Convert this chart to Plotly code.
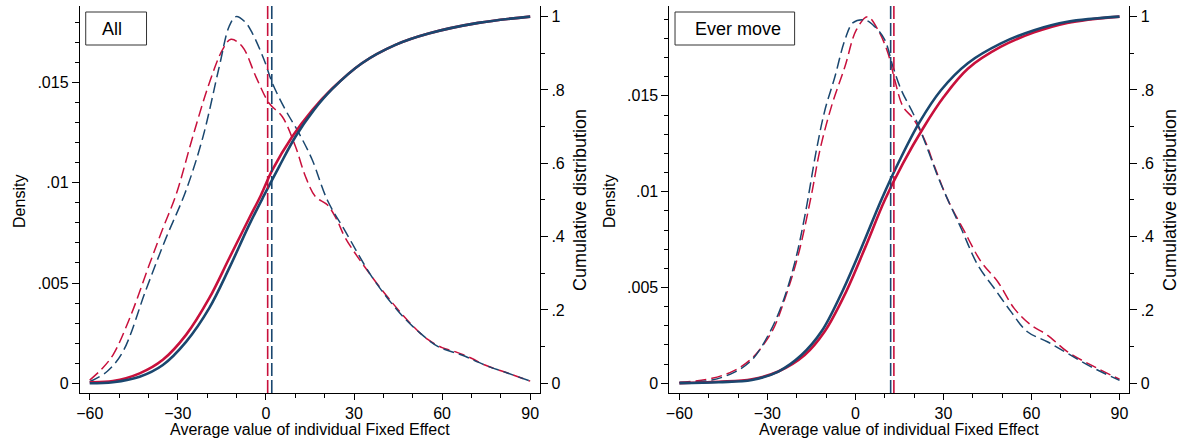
import plotly.graph_objects as go

# ---------------- data ----------------
# Panel "All"
all_red_dens_x = [-60, -56, -52.1, -46.4, -39.6, -35.1, -30.6, -24.9, -19.3, -14.8, -11.9, -8, -3.4, 1.1, 5.6,
                  10.1, 13.5, 16.9, 20.9, 24.0, 27.1, 36.1, 42, 49.7, 55, 60, 64.4, 70, 74.6, 82.5, 90]
all_red_dens_y = [0.00016, 0.0007, 0.00141, 0.00324, 0.00596, 0.00772, 0.0094, 0.0123, 0.01496, 0.01662,
                  0.01715, 0.01678, 0.01528, 0.01396, 0.01329, 0.01179, 0.0103, 0.0093, 0.0089, 0.0082,
                  0.00723, 0.00531, 0.0042, 0.00291, 0.0022, 0.00178, 0.00158, 0.00125, 0.00091, 0.0005, 0.00011]
all_blue_dens_x = [-60, -54, -48.7, -40.8, -34, -27.5, -21.5, -15.9, -12.5, -10.2, -7, -4.6, -0.6, 2.2, 6.7,
                   11.3, 15.8, 20.9, 27.1, 36.1, 45.2, 52, 58.8, 66.7, 74.6, 82.5, 90]
all_blue_dens_y = [0.00008, 0.0006, 0.00158, 0.00468, 0.00725, 0.0095, 0.01225, 0.01578, 0.0178, 0.01828,
                   0.0180, 0.01745, 0.01612, 0.01496, 0.01362, 0.01246, 0.01113, 0.00914, 0.00756, 0.00531,
                   0.00357, 0.00257, 0.00182, 0.00141, 0.00091, 0.0005, 0.00011]
all_red_cdf_x = [-60, -52.1, -43, -35.1, -27.2, -19.3, -12.5, -5.7, -1.7, 2.2, 9.0, 15.8, 22.6, 32.7, 44.1,
                 55.4, 72.3, 90]
all_red_cdf_y = [0.003, 0.006, 0.027, 0.064, 0.132, 0.232, 0.341, 0.45, 0.513, 0.582, 0.673, 0.745, 0.804,
                 0.873, 0.923, 0.954, 0.983, 1.0]
all_blue_cdf_x = [-60, -52.1, -43, -35.1, -27.2, -19.3, -12.5, -5.7, -0.6, 4.5, 10.1, 16.3, 22.6, 32.7, 44.1,
                  55.4, 72.3, 90]
all_blue_cdf_y = [0.0, 0.003, 0.018, 0.05, 0.113, 0.205, 0.314, 0.432, 0.513, 0.591, 0.673, 0.745, 0.803,
                  0.873, 0.923, 0.954, 0.983, 1.0]
all_means = {"red": 0.6, "blue": 2.0}

# Panel "Ever move"
mov_red_dens_x = [-60, -48.9, -41, -35, -28.5, -24, -19.5, -15, -12.1, -8.2, -3.6, 0.3, 4.1, 7.7, 11.1, 13.4,
                  16.2, 19.6, 23.6, 27, 31.5, 37.2, 42.8, 48.5, 54.1, 59.8, 65.4, 72.2, 80.2, 90]
mov_red_dens_y = [0.00005, 0.00026, 0.00069, 0.00135, 0.00269, 0.00444, 0.0067, 0.00983, 0.01218, 0.01444,
                  0.01652, 0.01844, 0.01913, 0.01844, 0.01722, 0.01583, 0.01444, 0.01383, 0.0127, 0.0113,
                  0.00957, 0.00791, 0.00635, 0.0053, 0.00391, 0.00304, 0.00252, 0.00165, 0.00096, 0.00021]
mov_blue_dens_x = [-60, -48.9, -41, -35.3, -29.7, -25.1, -20.6, -17.2, -13.3, -10.4, -7, -3.6, -0.8, 3.2, 6.6,
                   10, 12.8, 15.6, 20.2, 24.7, 28.1, 31.5, 36, 41.7, 47.3, 53, 58.6, 65.4, 72.2, 80.2, 90]
mov_blue_dens_y = [0.00005, 0.00017, 0.0006, 0.00122, 0.00252, 0.00409, 0.00635, 0.00878, 0.01218, 0.01426,
                   0.016, 0.01792, 0.01882, 0.01896, 0.01861, 0.01792, 0.01652, 0.01531, 0.01391, 0.01218,
                   0.01078, 0.00957, 0.00809, 0.00617, 0.00496, 0.00374, 0.00269, 0.00217, 0.00157, 0.00087,
                   0.00015]
mov_red_cdf_x = [-60, -46.6, -35.3, -26.3, -17.3, -10.5, -3.7, 3.3, 10.0, 16.2, 23.0, 30.0, 38.3, 49.6, 60.9,
                 72.2, 90]
mov_red_cdf_y = [0.0, 0.004, 0.011, 0.032, 0.077, 0.141, 0.241, 0.37, 0.5, 0.6, 0.695, 0.78, 0.858, 0.918,
                 0.957, 0.983, 1.0]
mov_blue_cdf_x = [-60, -46.6, -35.3, -26.3, -18.4, -11.6, -4.8, 2.0, 8.8, 15.1, 21.9, 29.2, 38.3, 49.6, 60.9,
                  72.2, 90]
mov_blue_cdf_y = [0.0, 0.003, 0.009, 0.032, 0.077, 0.141, 0.245, 0.369, 0.5, 0.609, 0.713, 0.80, 0.873, 0.927,
                  0.963, 0.986, 1.0]
mov_means = {"red": 13.1, "blue": 12.0}

panel_labels = ["All", "Ever move"]
x_ticks = [-60, -30, 0, 30, 60, 90]
x_minor = [-50, -40, -20, -10, 10, 20, 40, 50, 70, 80]
dens_ticks = [0, 0.005, 0.01, 0.015]
dens_ticktext = ["0", ".005", ".01", ".015"]
cdf_ticks = [0, 0.2, 0.4, 0.6, 0.8, 1.0]
cdf_ticktext = ["0", ".2", ".4", ".6", ".8", "1"]
cdf_minor = [0.1, 0.3, 0.5, 0.7, 0.9]
dens_minor_all = [0.001, 0.002, 0.003, 0.004, 0.006, 0.007, 0.008, 0.009, 0.011, 0.012, 0.013, 0.014,
                  0.016, 0.017, 0.018]
dens_minor_mov = dens_minor_all + [0.019]

# ---------------- styling ----------------
W, H = 1182, 440
RED = "#C8103C"
BLUE = "#1A476F"
FONT = "Liberation Sans, Arial, sans-serif"

def px_x(p):
    return p / W

def px_y(p):
    return 1 - p / H

top, bottom = 6, 393
panels = [
    dict(left=76, right=538, dens_range=[-0.000483, 0.01881], minor=dens_minor_all,
         red_d=(all_red_dens_x, all_red_dens_y), blue_d=(all_blue_dens_x, all_blue_dens_y),
         red_c=(all_red_cdf_x, all_red_cdf_y), blue_c=(all_blue_cdf_x, all_blue_cdf_y),
         means=all_means, box=(82, 143), text_x=108.5, dens_title_x=15, cdf_title_x=578),
    dict(left=667.7, right=1129.3, dens_range=[-0.000506, 0.01969], minor=dens_minor_mov,
         red_d=(mov_red_dens_x, mov_red_dens_y), blue_d=(mov_blue_dens_x, mov_blue_dens_y),
         red_c=(mov_red_cdf_x, mov_red_cdf_y), blue_c=(mov_blue_cdf_x, mov_blue_cdf_y),
         means=mov_means, box=(673.3, 793.3), text_x=736, dens_title_x=607, cdf_title_x=1170),
]

fig = go.Figure()
layout = dict(width=W, height=H, margin=dict(l=0, r=0, t=0, b=0), plot_bgcolor="white",
              paper_bgcolor="white", showlegend=False, font=dict(family=FONT, size=16, color="black"))
shapes, annotations = [], []

for i, p in enumerate(panels):
    xa = "x" if i == 0 else "x2"
    ya_d = "y" if i == 0 else "y3"
    ya_c = "y2" if i == 0 else "y4"
    xkey = "xaxis" if i == 0 else "xaxis2"
    ykd = "yaxis" if i == 0 else "yaxis3"
    ykc = "yaxis2" if i == 0 else "yaxis4"

    for (xs, ys), col in [(p["red_d"], RED), (p["blue_d"], BLUE)]:
        fig.add_trace(go.Scatter(x=xs, y=ys, mode="lines", xaxis=xa, yaxis=ya_d,
                                 line=dict(color=col, width=1.5, dash="11px,5px", shape="spline", smoothing=1.0)))
    for (xs, ys), col in [(p["red_c"], RED), (p["blue_c"], BLUE)]:
        fig.add_trace(go.Scatter(x=xs, y=ys, mode="lines", xaxis=xa, yaxis=ya_c,
                                 line=dict(color=col, width=2.6, shape="spline", smoothing=1.0)))

    dom_x = [px_x(p["left"]), px_x(p["right"])]
    dom_y = [px_y(bottom), px_y(top)]
    common = dict(showgrid=False, zeroline=False, showline=True, linecolor="black", linewidth=1,
                  ticks="outside", tickcolor="black", tickfont=dict(family=FONT, size=16))
    layout[xkey] = dict(domain=dom_x, range=[-63.4, 93.4], anchor=ya_d, tickmode="array", tickvals=x_ticks,
                        ticklen=6,
                        minor=dict(tickmode="array", tickvals=x_minor, ticklen=4, ticks="outside",
                                   tickcolor="black"), **common)
    layout[ykd] = dict(domain=dom_y, range=p["dens_range"], anchor=xa, tickmode="array", tickvals=dens_ticks,
                       ticktext=dens_ticktext, ticklen=7,
                       minor=dict(tickmode="array", tickvals=p["minor"], ticklen=4, ticks="outside",
                                  tickcolor="black"), **common)
    layout[ykc] = dict(domain=dom_y, range=[-0.0265, 1.029], anchor=xa, overlaying=ya_d, side="right",
                       tickmode="array", tickvals=cdf_ticks, ticktext=cdf_ticktext, ticklen=7,
                       minor=dict(tickmode="array", tickvals=cdf_minor, ticklen=4, ticks="outside",
                                  tickcolor="black"), **common)

    for key, col in [("red", RED), ("blue", BLUE)]:
        shapes.append(dict(type="line", xref=xa, yref=f"{ya_d} domain", x0=p["means"][key], x1=p["means"][key],
                           y0=0, y1=1, line=dict(color=col, width=1.6, dash="13px,4px")))

    bx0, bx1 = p["box"]
    shapes.append(dict(type="rect", xref="paper", yref="paper", x0=px_x(bx0), x1=px_x(bx1),
                       y0=px_y(45), y1=px_y(12), line=dict(color="#333333", width=1), fillcolor="white"))
    annotations.append(dict(text=panel_labels[i], xref="paper", yref="paper", x=px_x(p["text_x"]),
                            y=px_y(29), xanchor="center", yanchor="middle", showarrow=False,
                            font=dict(family=FONT, size=18, color="black")))
    annotations.append(dict(text="Density", xref="paper", yref="paper", x=px_x(p["dens_title_x"]),
                            y=px_y(201), textangle=-90, xanchor="center", yanchor="middle", showarrow=False,
                            font=dict(family=FONT, size=16)))
    annotations.append(dict(text="Cumulative distribution", xref="paper", yref="paper",
                            x=px_x(p["cdf_title_x"]), y=px_y(200), textangle=-90, xanchor="center",
                            yanchor="middle", showarrow=False, font=dict(family=FONT, size=18)))
    annotations.append(dict(text="Average value of individual Fixed Effect", xref="paper", yref="paper",
                            x=(dom_x[0] + dom_x[1]) / 2, y=px_y(429), xanchor="center", yanchor="middle",
                            showarrow=False, font=dict(family=FONT, size=16)))

layout["shapes"] = shapes
layout["annotations"] = annotations
fig.update_layout(**layout)
fig.write_html("out.html")
